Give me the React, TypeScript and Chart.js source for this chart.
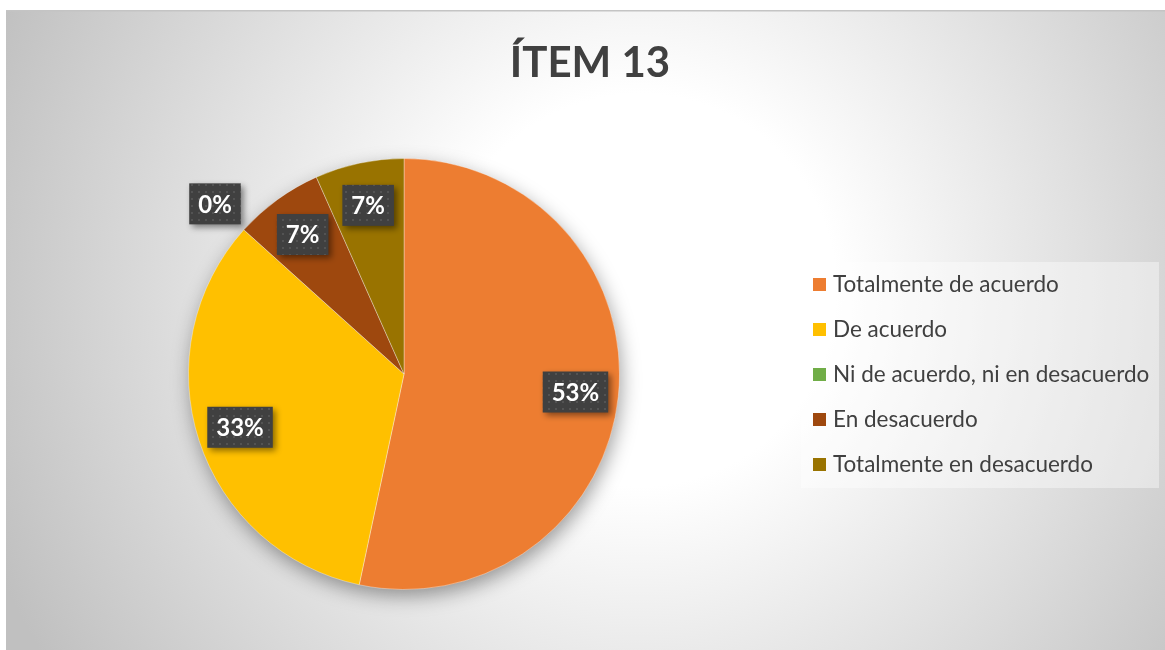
import React, { useEffect, useRef } from "react";
import { Chart, registerables } from "chart.js";

Chart.register(...registerables);

const chartTitle = "ÍTEM 13";
const categories = [
  "Totalmente de acuerdo",
  "De acuerdo",
  "Ni de acuerdo, ni en desacuerdo",
  "En desacuerdo",
  "Totalmente en desacuerdo",
];
const counts = [8, 5, 0, 1, 1];
const sliceColors = ["#ED7D31", "#FFC000", "#70AD47", "#9E480E", "#997300"];

const W = 1165;
const H = 650;
const TEXT_COLOR = "#404040";

function makePattern(ctx: CanvasRenderingContext2D) {
  const c = document.createElement("canvas");
  c.width = 7;
  c.height = 7;
  const p = c.getContext("2d")!;
  p.fillStyle = "#404040";
  p.fillRect(0, 0, 7, 7);
  p.fillStyle = "#535353";
  p.fillRect(2, 2, 2, 2);
  return ctx.createPattern(c, "repeat") || "#404040";
}

const backgroundPlugin = {
  id: "bgPlugin",
  beforeDraw(chart: any) {
    const ctx: CanvasRenderingContext2D = chart.ctx;
    ctx.save();
    ctx.fillStyle = "#ffffff";
    ctx.fillRect(0, 0, W, H);
    const g = ctx.createRadialGradient(640, 290, 0, 640, 290, 700);
    g.addColorStop(0, "#ffffff");
    g.addColorStop(0.28, "#ffffff");
    g.addColorStop(1, "#c0c0c0");
    ctx.fillStyle = g;
    ctx.fillRect(6, 11, W - 6, H - 11);
    ctx.fillStyle = "#c4c4c4";
    ctx.fillRect(6, 10, W - 6, 1.5);
    ctx.restore();
  },
};

const pieShadowPlugin = {
  id: "pieShadow",
  beforeDatasetsDraw(chart: any) {
    const meta = chart.getDatasetMeta(0);
    const arc = meta.data[0];
    if (!arc) return;
    const ctx: CanvasRenderingContext2D = chart.ctx;
    ctx.save();
    ctx.shadowColor = "rgba(0,0,0,0.4)";
    ctx.shadowBlur = 20;
    ctx.shadowOffsetX = 2;
    ctx.shadowOffsetY = 7;
    ctx.fillStyle = "#dddddd";
    ctx.beginPath();
    ctx.arc(arc.x, arc.y, arc.outerRadius - 1, 0, Math.PI * 2);
    ctx.fill();
    ctx.restore();
  },
};

const labelPlugin = {
  id: "pctLabels",
  afterDatasetsDraw(chart: any) {
    const ctx: CanvasRenderingContext2D = chart.ctx;
    const meta = chart.getDatasetMeta(0);
    const data: number[] = chart.data.datasets[0].data;
    const total = data.reduce((a, b) => a + b, 0);
    const pattern = makePattern(ctx);
    ctx.save();
    ctx.font = "bold 24px Lato";
    meta.data.forEach((arc: any, i: number) => {
      const v = data[i];
      const mid = (arc.startAngle + arc.endAngle) / 2;
      const r = v > 0 ? arc.outerRadius * 0.8 : arc.outerRadius * 1.18;
      const cx = arc.x + Math.cos(mid) * r;
      const cy = arc.y + Math.sin(mid) * r;
      const txt = Math.round((v / total) * 100) + "%";
      const tw = ctx.measureText(txt).width;
      const bw = tw + 18;
      const bh = 41;
      ctx.save();
      ctx.shadowColor = "rgba(0,0,0,0.45)";
      ctx.shadowBlur = 6;
      ctx.shadowOffsetX = 3;
      ctx.shadowOffsetY = 3;
      ctx.fillStyle = pattern as any;
      ctx.fillRect(cx - bw / 2, cy - bh / 2, bw, bh);
      ctx.restore();
      ctx.fillStyle = "#ffffff";
      ctx.textAlign = "center";
      ctx.textBaseline = "middle";
      ctx.fillText(txt, cx, cy + 1);
    });
    ctx.restore();
  },
};

const titleLegendPlugin = {
  id: "titleLegend",
  afterDraw(chart: any) {
    const ctx: CanvasRenderingContext2D = chart.ctx;
    ctx.save();
    // title
    ctx.fillStyle = TEXT_COLOR;
    ctx.font = "bold 42px Lato";
    ctx.textAlign = "center";
    ctx.textBaseline = "alphabetic";
    ctx.fillText(chartTitle, 590, 77);
    // legend
    ctx.fillStyle = "rgba(255,255,255,0.4)";
    ctx.fillRect(801, 262, 358, 226);
    const labels: string[] = chart.data.labels;
    const cols: string[] = chart.data.datasets[0].backgroundColor;
    ctx.font = "22.5px Lato";
    ctx.textAlign = "left";
    labels.forEach((lab, i) => {
      const top = 278 + i * 45;
      ctx.fillStyle = cols[i];
      ctx.fillRect(813, top, 13, 13);
      ctx.fillStyle = TEXT_COLOR;
      ctx.fillText(lab, 833, top + 14);
    });
    ctx.restore();
  },
};

export default function App() {
  const ref = useRef<HTMLCanvasElement | null>(null);
  useEffect(() => {
    if (!ref.current) return;
    const chart = new Chart(ref.current, {
      type: "pie",
      data: {
        labels: categories,
        datasets: [
          {
            data: counts,
            backgroundColor: sliceColors,
            borderColor: "rgba(255,255,255,0.35)",
            borderWidth: 1,
          },
        ],
      },
      options: {
        animation: false,
        responsive: false,
        devicePixelRatio: 1,
        layout: { padding: { left: 188, right: 545, top: 158, bottom: 60 } },
        plugins: {
          legend: { display: false },
          title: { display: false },
          tooltip: { enabled: false },
        },
      } as any,
      plugins: [backgroundPlugin, pieShadowPlugin, labelPlugin, titleLegendPlugin],
    });
    return () => chart.destroy();
  }, []);
  return (
    <div style={{ position: "fixed", left: 0, top: 0, width: W, height: H }}>
      <canvas ref={ref} width={W} height={H} style={{ display: "block" }} />
    </div>
  );
}
